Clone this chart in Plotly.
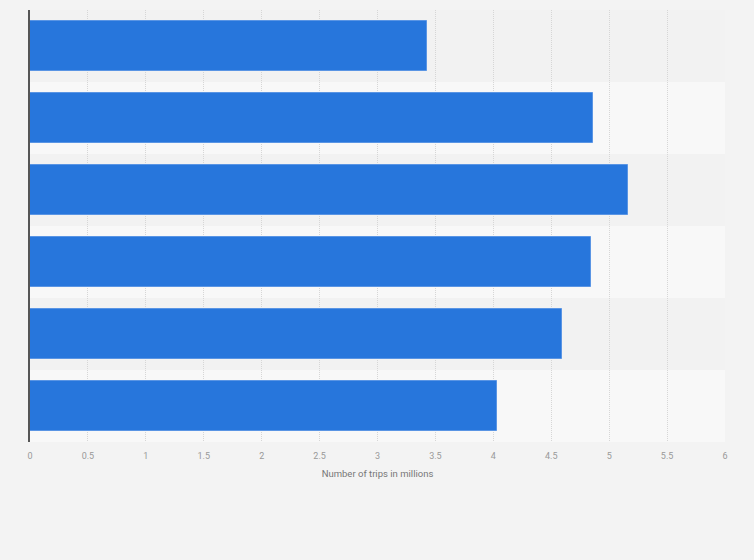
import plotly.graph_objects as go

# categories are not labelled in the source picture
categories = ["A", "B", "C", "D", "E", "F"]
trips_millions = [3.43, 4.86, 5.16, 4.84, 4.59, 4.03]
x_ticks = [0, 0.5, 1, 1.5, 2, 2.5, 3, 3.5, 4, 4.5, 5, 5.5, 6]
x_tick_labels = ["0", "0.5", "1", "1.5", "2", "2.5", "3", "3.5", "4", "4.5", "5", "5.5", "6"]


def main():
    fig = go.Figure()

    fig.add_trace(go.Bar(
        x=trips_millions,
        y=categories,
        orientation="h",
        width=0.69,
        marker=dict(color="#2776dc", line=dict(color="#5a95e4", width=1)),
        hoverinfo="x",
    ))

    # alternating background bands behind each category
    shapes = []
    for i in range(len(categories)):
        shapes.append(dict(
            type="rect", xref="paper", yref="y", layer="below",
            x0=0, x1=1, y0=i - 0.5, y1=i + 0.5,
            fillcolor="#f2f2f2" if i % 2 == 0 else "#f8f8f8",
            line=dict(width=0),
        ))

    fig.update_layout(
        width=754,
        height=560,
        margin=dict(l=30, r=29, t=10, b=118),
        paper_bgcolor="#f3f3f3",
        plot_bgcolor="#f3f3f3",
        showlegend=False,
        shapes=shapes,
        font=dict(family="Roboto, Arial, sans-serif", color="#666666"),
        bargap=0,
    )

    fig.update_xaxes(
        range=[0, 6],
        tickvals=x_ticks,
        ticktext=x_tick_labels,
        tickfont=dict(size=9, color="#999999"),
        showgrid=True,
        gridcolor="#d6d6d6",
        griddash="1px,1px",
        gridwidth=1,
        zeroline=False,
        showline=False,
        ticks="",
        ticklabelstandoff=7,
        title=dict(text="Number of trips in millions", font=dict(size=9.5, color="#777777"), standoff=10),
    )

    fig.update_yaxes(
        autorange="reversed",
        showticklabels=False,
        showgrid=False,
        zeroline=False,
        showline=True,
        linecolor="#555555",
        linewidth=1.5,
        ticks="",
    )

    # drop the default page margin so the chart sits at the window corner
    fig.write_html("out.html", config={"displayModeBar": False},
                   post_script="document.body.style.margin='0';")


if __name__ == "__main__":
    main()
